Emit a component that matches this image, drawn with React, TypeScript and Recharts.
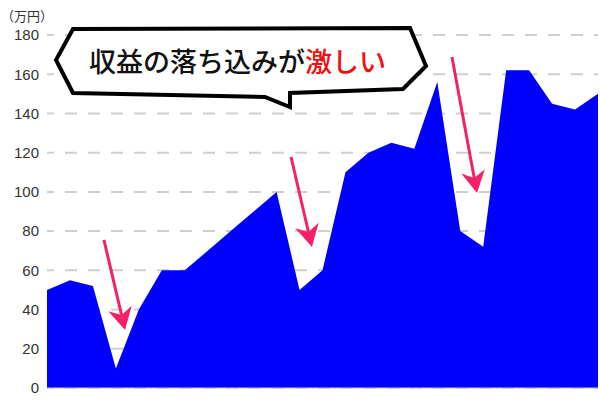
import { AreaChart, Area, XAxis, YAxis, CartesianGrid, ReferenceLine } from "recharts";

// 25 periods, no labels shown on the x axis
const periods = [1, 2, 3, 4, 5, 6, 7, 8, 9, 10, 11, 12, 13, 14, 15, 16, 17, 18, 19, 20, 21, 22, 23, 24, 25];
const revenue = [50, 55, 52, 10, 40, 60, 60, 70, 80, 90, 100, 50, 60, 110, 120, 125, 122, 156, 80, 72, 162, 162, 145, 142, 150];
const yTicks = [0, 20, 40, 60, 80, 100, 120, 140, 160, 180];

// arrows pointing at the drops: [fromPeriod, fromValue, toPeriod, toValue]
const dropArrows = [
  [3.48, 75.5, 4.4, 29.6],
  [11.63, 117.8, 12.54, 71.9],
  [18.64, 168.8, 19.73, 99.4],
];

const chartData = periods.map((p, i) => ({ period: p, revenue: revenue[i] }));

const PINK = "#f5206a";

function Arrow(props: any) {
  const { x1, y1, x2, y2 } = props;
  const dx = x2 - x1;
  const dy = y2 - y1;
  const len = Math.sqrt(dx * dx + dy * dy);
  const ux = dx / len;
  const uy = dy / len;
  const headLen = 22;
  const headW = 12;
  const bx = x2 - ux * headLen;
  const by = y2 - uy * headLen;
  // notch a bit back into the head
  const nx = x2 - ux * headLen * 0.7;
  const ny = y2 - uy * headLen * 0.7;
  const pts = [
    [x2, y2],
    [bx - uy * headW, by + ux * headW],
    [nx, ny],
    [bx + uy * headW, by - ux * headW],
  ]
    .map((p) => p.join(","))
    .join(" ");
  return (
    <g>
      <line x1={x1} y1={y1} x2={nx} y2={ny} stroke={PINK} strokeWidth={3} />
      <polygon points={pts} fill={PINK} />
    </g>
  );
}

export default function App() {
  return (
    <div style={{ position: "absolute", left: 0, top: 0, width: 600, height: 400, background: "#fff" }}>
      <style>{"body{margin:0}"}</style>
      <AreaChart width={600} height={400} data={chartData} margin={{ top: 35, right: 2, bottom: 0, left: 0 }}>
        <CartesianGrid
          vertical={false}
          stroke="#cfcfcf"
          strokeWidth={2}
          strokeDasharray="12 11"
          strokeDashoffset={5}
        />
        <XAxis
          dataKey="period"
          type="number"
          domain={[1, 25]}
          ticks={periods}
          tick={false}
          height={12}
          tickSize={4}
          stroke="#c4c8ec"
          tickLine={{ stroke: "#d0d0d0" }}
        />
        <YAxis
          domain={[0, 180]}
          ticks={yTicks}
          width={47}
          axisLine={false}
          tickLine={false}
          tick={{ fill: "#333", fontSize: 15, fontFamily: "Liberation Sans, Arial, sans-serif" }}
        />
        <Area
          type="linear"
          dataKey="revenue"
          stroke="none"
          fill="#0000ff"
          fillOpacity={1}
          isAnimationActive={false}
        />
        {dropArrows.map((a, i) => (
          <ReferenceLine
            key={i}
            segment={[
              { x: a[0], y: a[1] },
              { x: a[2], y: a[3] },
            ]}
            shape={Arrow}
            ifOverflow="visible"
          />
        ))}
      </AreaChart>
      <svg
        width={600}
        height={400}
        style={{ position: "absolute", left: 0, top: 0, pointerEvents: "none" }}
      >
        <text x={1} y={15} fontSize={13} fill="#333" fontFamily="Noto Sans CJK JP, sans-serif" dominantBaseline="central">
          （万円）
        </text>
        <polygon
          points="73,29 410,28 426,66 403,89 290,93 290,107 265,97 73,93 56,60"
          fill="#fff"
          stroke="#000"
          strokeWidth={4}
          strokeLinejoin="miter"
        />
        <text
          x={89}
          y={60}
          fontSize={27}
          fontWeight={500}
          fontFamily="Noto Sans CJK JP, sans-serif"
          dominantBaseline="central"
          fill="#111"
        >
          収益の落ち込みが<tspan fill="#f01010">激しい</tspan>
        </text>
      </svg>
    </div>
  );
}
